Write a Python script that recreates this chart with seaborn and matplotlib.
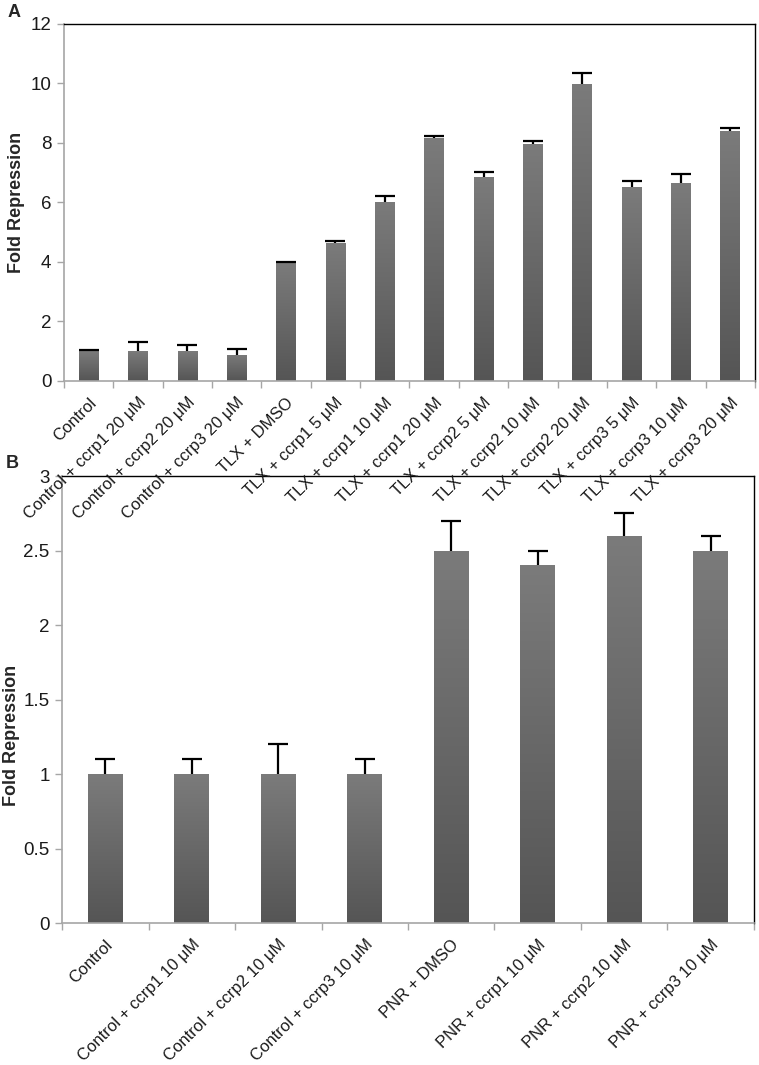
import numpy as np
import pandas as pd
import matplotlib
matplotlib.use("Agg")
import matplotlib.pyplot as plt
from matplotlib.colors import LinearSegmentedColormap
import seaborn as sns

# ---------------- data ----------------
cats_a = ["Control", "Control + ccrp1 20 μM", "Control + ccrp2 20 μM", "Control + ccrp3 20 μM",
          "TLX + DMSO", "TLX + ccrp1 5 μM", "TLX + ccrp1 10 μM", "TLX + ccrp1 20 μM",
          "TLX + ccrp2 5 μM", "TLX + ccrp2 10 μM", "TLX + ccrp2 20 μM",
          "TLX + ccrp3 5 μM", "TLX + ccrp3 10 μM", "TLX + ccrp3 20 μM"]
vals_a = [1.0, 1.0, 1.0, 0.88, 3.99, 4.63, 6.03, 8.16, 6.87, 7.98, 9.99, 6.51, 6.67, 8.39]
errs_a = [0.05, 0.31, 0.20, 0.21, 0.02, 0.09, 0.19, 0.07, 0.16, 0.10, 0.36, 0.21, 0.30, 0.10]

cats_b = ["Control", "Control + ccrp1 10 μM", "Control + ccrp2 10 μM", "Control + ccrp3 10 μM",
          "PNR + DMSO", "PNR + ccrp1 10 μM", "PNR + ccrp2 10 μM", "PNR + ccrp3 10 μM"]
vals_b = [1.0, 1.0, 1.0, 1.0, 2.5, 2.4, 2.6, 2.5]
errs_b = [0.1, 0.1, 0.2, 0.1, 0.2, 0.1, 0.15, 0.1]

yticks_a = [0, 2, 4, 6, 8, 10, 12]
yticks_b = [0, 0.5, 1, 1.5, 2, 2.5, 3]
ytick_labels_b = ["0", "0.5", "1", "1.5", "2", "2.5", "3"]

# ---------------- style ----------------
sns.set_theme(style="white")
plt.rcParams["font.family"] = ["Liberation Sans", "DejaVu Sans"]

grad_cmap = LinearSegmentedColormap.from_list("bar", ["#555555", "#7b7b7b"])
gray_axis = "#a6a6a6"

fig = plt.figure(figsize=(7.59, 10.65), dpi=100)
ax_b = fig.add_axes([0.0817, 0.1333, 0.9117, 0.4197])
ax_a = fig.add_axes([0.0843, 0.6423, 0.9104, 0.3352])
ax_b.patch.set_visible(False)
ax_a.patch.set_visible(False)


def draw_panel(ax, cats, vals, errs, yticks, ylabels, ymax, capsize, ylab_xy):
    df = pd.DataFrame({"cat": cats, "val": vals})
    sns.barplot(data=df, x="cat", y="val", ax=ax, color="#666666", width=0.4,
                errorbar=None, saturation=1, linewidth=0)
    n = len(cats)
    grad = np.linspace(0, 1, 256).reshape(-1, 1)
    xs = []
    for p in ax.patches:
        x0, y0 = p.get_x(), p.get_y()
        w, h = p.get_width(), p.get_height()
        xs.append(x0 + w / 2)
        im = ax.imshow(grad, extent=[x0, x0 + w, y0, y0 + h], origin="lower",
                       aspect="auto", cmap=grad_cmap, zorder=2)
        im.set_clip_path(p)
        p.set_facecolor("none")
    cont = ax.errorbar(xs, vals, yerr=[np.zeros(n), errs], fmt="none", ecolor="black",
                       elinewidth=1.6, capsize=capsize, capthick=1.6, zorder=3)
    # hide the lower caps (they sit on the bar tops)
    for cl in cont[1]:
        if np.allclose(cl.get_ydata(), vals):
            cl.set_visible(False)
    ax.set_xlim(-0.5, n - 0.5)
    ax.set_ylim(0, ymax)
    ax.set_aspect("auto")
    ax.set_yticks(yticks)
    ax.set_yticklabels(ylabels, fontsize=13.5, color="#1a1a1a")
    ax.set_xticks(np.arange(n))
    ax.set_xticklabels(cats, rotation=45, ha="right", rotation_mode="anchor",
                       fontsize=12, color="#1a1a1a")
    ax.set_xticks(np.arange(-0.5, n, 1.0), minor=True)
    ax.tick_params(axis="x", which="major", length=0, pad=10)
    ax.tick_params(axis="x", which="minor", length=5, color=gray_axis, width=1, direction="out", bottom=True)
    ax.tick_params(axis="y", length=5, color=gray_axis, width=1, direction="out", left=True, pad=4)
    ax.set_xlabel("")
    ax.set_ylabel("Fold Repression", fontsize=13, fontweight="bold")
    ax.yaxis.set_label_coords(*ylab_xy)
    for s in ["left", "bottom"]:
        ax.spines[s].set_color(gray_axis)
        ax.spines[s].set_linewidth(1.2)
    for s in ["top", "right"]:
        ax.spines[s].set_color("black")
        ax.spines[s].set_linewidth(1.0)
        ax.spines[s].set_visible(True)


draw_panel(ax_a, cats_a, vals_a, errs_a, yticks_a, [str(t) for t in yticks_a], 12, 7, (-0.057, 0.50))
draw_panel(ax_b, cats_b, vals_b, errs_b, yticks_b, ytick_labels_b, 3, 7, (-0.061, 0.42))

fig.text(0.01, 0.996, "A", fontsize=13, fontweight="bold", va="top", ha="left")
fig.text(0.007, 0.573, "B", fontsize=13, fontweight="bold", va="top", ha="left")

fig.savefig("out.png", dpi=100)
